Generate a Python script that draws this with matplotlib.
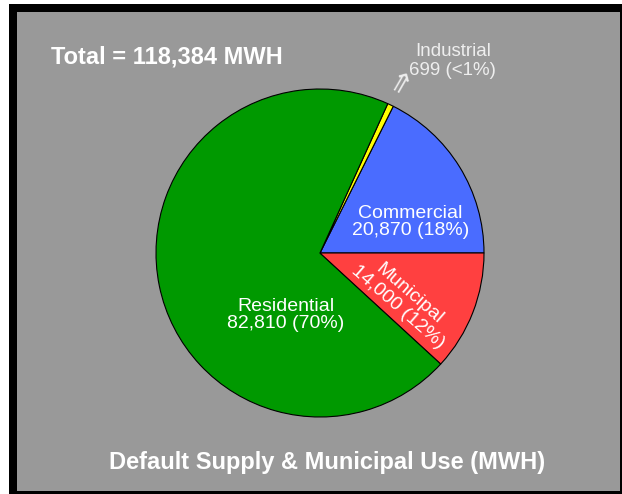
import matplotlib.pyplot as plt
from matplotlib.patches import Rectangle

plt.rcParams['font.family'] = ['Liberation Sans', 'DejaVu Sans']

sectores = ['Commercial', 'Industrial', 'Residential', 'Municipal']
valores = [20870, 699, 82810, 14000]
rotulos = ['20,870 (18%)', '699 (<1%)', '82,810 (70%)', '14,000 (12%)']
cores = ['#4a6cff', '#ffff00', '#009900', '#ff4040']
total_txt = 'Total = 118,384 MWH'
titulo = 'Default Supply & Municipal Use (MWH)'

W, H = 622, 494
fig = plt.figure(figsize=(W / 100, H / 100), dpi=100, facecolor='white')

# moldura preta + fundo cinza
fig.patches.append(Rectangle((9 / W, 0), 1 - 9 / W, 1 - 4 / H, transform=fig.transFigure,
                             facecolor='black', edgecolor='none', zorder=-10))
fig.patches.append(Rectangle((17 / W, 3 / H), (620 - 17) / W, (482 - 3) / H, transform=fig.transFigure,
                             facecolor='#999999', edgecolor='none', zorder=-9))

# pizza: centro (320, 253), raio ~164 px
r = 164
ax = fig.add_axes([(320 - r) / W, (H - 253 - r) / H, 2 * r / W, 2 * r / H])
ax.set_facecolor('none')
ax.pie(valores, colors=cores, startangle=0, counterclock=True,
       wedgeprops=dict(edgecolor='black', linewidth=0.8))
ax.set_xlim(-1, 1)
ax.set_ylim(-1, 1)
ax.set_aspect('equal')
ax.axis('off')

cor_txt = '#ffffff'
fs = 14
ax.text(0.55, 0.19, sectores[0] + '\n' + rotulos[0], color=cor_txt, fontsize=fs,
        ha='center', va='center', linespacing=1.0)
ax.text(-0.21, -0.38, sectores[2] + '\n' + rotulos[2], color=cor_txt, fontsize=fs,
        ha='center', va='center', linespacing=1.0)
ax.text(0.51, -0.29, sectores[3] + '\n' + rotulos[3], color=cor_txt, fontsize=fs,
        ha='center', va='center', linespacing=1.0, rotation=-41, rotation_mode='anchor')
ax.text(0.81, 1.17, sectores[1] + '\n' + rotulos[1], color='#eeeeee', fontsize=13.5,
        ha='center', va='center', linespacing=1.15, clip_on=False)
ax.text(0.48, 1.01, '\u21d1', color='#eeeeee', fontsize=20, ha='center', va='center',
        rotation=-30, clip_on=False, family=['DejaVu Sans'])

fig.text(167 / W, 1 - 57 / H, total_txt, color='white', fontsize=17, fontweight='bold',
         ha='center', va='center')
fig.text(327 / W, 1 - 462 / H, titulo, color='white', fontsize=17, fontweight='bold',
         ha='center', va='center')

plt.savefig('out.png', dpi=100, facecolor=fig.get_facecolor())
